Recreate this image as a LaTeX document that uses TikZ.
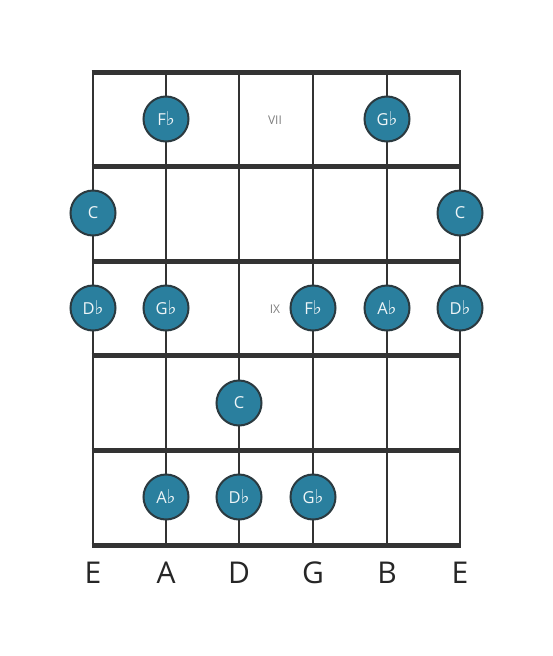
\documentclass[tikz,border=0pt]{standalone}
\usepackage{fontspec}
\setmainfont{Open Sans}
\newfontfamily\symfont{DejaVu Sans}
\begin{document}
\begin{tikzpicture}[x=1pt,y=-1pt,
  fretline/.style={line width=5pt,draw=black!80},
  stringline/.style={line width=2.8pt,draw=black!80},
  notedot/.style={circle,minimum size=45pt,inner sep=0pt,fill=notefill,draw=notedraw,line width=2pt,text=white!92!notefill,font=\fontsize{16.5}{16.5}\selectfont},
  fretnum/.style={text=black!50,font=\fontsize{12}{12}\selectfont},
  strlabel/.style={text=black!85,font=\fontsize{30}{30}\selectfont}]
\definecolor{notefill}{HTML}{2A7F9E}
\definecolor{notedraw}{HTML}{2B3A40}
\newcommand{\flt}{{\symfont\fontsize{19}{19}\selectfont ♭}}
\useasboundingbox (0,0) rectangle (553,656);
\fill[white] (0,0) rectangle (553,656);
% strings
\foreach \x/\n in {93/s1,166/s2,239/s3,313/s4,387/s5,460/s6}{
  \coordinate (\n t) at (\x,72);
  \coordinate (\n b) at (\x,545);
  \draw[stringline] (\n t) -- (\n b);
}
% frets
\foreach \y/\n in {72/f0,166/f1,261/f2,355/f3,450/f4,545/f5}{
  \coordinate (\n l) at (93,\y);
  \coordinate (\n r) at (460,\y);
  \draw[fretline] ([xshift=-1.4pt]\n l) -- ([xshift=1.4pt]\n r);
}
% fret numbers
\node[fretnum] (vii) at (275,120) {VII};
\node[fretnum] (ix) at (275,309) {IX};
% notes
\node[notedot] (n1) at (166,119) {F\flt};
\node[notedot] (n2) at (387,119) {G\flt};
\node[notedot] (n3) at (93,213) {C};
\node[notedot] (n4) at (460,213) {C};
\node[notedot] (n5) at (93,308) {D\flt};
\node[notedot] (n6) at (166,308) {G\flt};
\node[notedot] (n7) at (313,308) {F\flt};
\node[notedot] (n8) at (387,308) {A\flt};
\node[notedot] (n9) at (460,308) {D\flt};
\node[notedot] (n10) at (239,403) {C};
\node[notedot] (n11) at (166,497) {A\flt};
\node[notedot] (n12) at (239,497) {D\flt};
\node[notedot] (n13) at (313,497) {G\flt};
% string labels
\foreach \x/\t/\n in {93/E/l1,166/A/l2,239/D/l3,313/G/l4,387/B/l5,460/E/l6}{
  \node[strlabel] (\n) at (\x,573) {\t};
}
\end{tikzpicture}
\end{document}
